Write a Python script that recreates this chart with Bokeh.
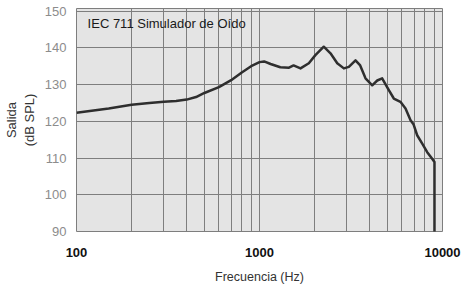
from bokeh.plotting import figure
from bokeh.models import Range1d, FixedTicker, BasicTickFormatter, Label
from bokeh.embed import file_html
from bokeh.resources import INLINE

# ---- data ----
freq_hz = [100, 150, 200, 250, 300, 350, 400, 450, 500, 600, 700, 800, 900,
           1000, 1060, 1150, 1300, 1450, 1535, 1675, 1860, 2020, 2245, 2443,
           2660, 2890, 3078, 3347, 3550, 3796, 4130, 4400, 4680, 5090, 5420,
           5890, 6280, 6690, 6940, 7270, 7750, 8250, 8780, 9040, 9040]
spl_db = [122.3, 123.5, 124.5, 125.0, 125.3, 125.5, 125.9, 126.6, 127.7, 129.3,
          131.2, 133.3, 135.0, 136.1, 136.3, 135.6, 134.7, 134.6, 135.2, 134.4,
          135.8, 138.0, 140.3, 138.5, 135.8, 134.4, 134.8, 136.6, 135.2, 131.7,
          129.8, 131.1, 131.7, 128.5, 126.2, 125.3, 123.5, 120.3, 119.2, 116.2,
          113.9, 111.6, 109.8, 108.9, 89.8]

x_ticks = [100, 1000, 10000]
x_minor = [200, 300, 400, 500, 600, 700, 800, 900,
           2000, 3000, 4000, 5000, 6000, 7000, 8000, 9000]
y_ticks = [90, 100, 110, 120, 130, 140, 150]

chart_note = "IEC 711 Simulador de Oído"
x_title = "Frecuencia (Hz)"
y_title = "Salida\n(dB SPL)"

FONT = "Liberation Sans"
GRID = "#7e7e7e"

p = figure(width=463, height=286, x_axis_type="log",
           x_range=Range1d(100, 10000), y_range=Range1d(90, 150.7),
           output_backend="svg", toolbar_location=None,
           min_border_left=76, min_border_right=21,
           min_border_top=8, min_border_bottom=55)

p.background_fill_color = "#e4e4e4"
p.border_fill_color = "white"
p.outline_line_color = GRID
p.outline_line_width = 1

# x axis
p.xaxis.ticker = FixedTicker(ticks=x_ticks, minor_ticks=x_minor)
p.xaxis.formatter = BasicTickFormatter(use_scientific=False)
p.xaxis.axis_line_color = None
p.xaxis.major_tick_line_color = None
p.xaxis.minor_tick_line_color = None
p.xaxis.major_tick_out = 0
p.xaxis.major_tick_in = 0
p.xaxis.major_label_standoff = 12
p.xaxis.major_label_text_font = FONT
p.xaxis.major_label_text_font_size = "13px"
p.xaxis.major_label_text_font_style = "bold"
p.xaxis.major_label_text_color = "#111111"
p.xaxis.axis_label = x_title
p.xaxis.axis_label_standoff = 10
p.xaxis.axis_label_text_font = FONT
p.xaxis.axis_label_text_font_size = "12.5px"
p.xaxis.axis_label_text_font_style = "normal"
p.xaxis.axis_label_text_color = "#333333"

# y axis
p.yaxis.ticker = FixedTicker(ticks=y_ticks)
p.yaxis.axis_line_color = None
p.yaxis.major_tick_line_color = None
p.yaxis.minor_tick_line_color = None
p.yaxis.major_tick_out = 0
p.yaxis.major_tick_in = 0
p.yaxis.major_label_standoff = 10
p.yaxis.major_label_text_font = FONT
p.yaxis.major_label_text_font_size = "13px"
p.yaxis.major_label_text_color = "#8c8c8c"
p.yaxis.axis_label = y_title
p.yaxis.axis_label_standoff = 5
p.yaxis.axis_label_text_font = FONT
p.yaxis.axis_label_text_font_size = "13px"
p.yaxis.axis_label_text_font_style = "normal"
p.yaxis.axis_label_text_color = "#333333"

# grids
p.xgrid.grid_line_color = GRID
p.xgrid.minor_grid_line_color = GRID
p.xgrid.grid_line_width = 1
p.xgrid.minor_grid_line_width = 1
p.ygrid.grid_line_color = GRID
p.ygrid.grid_line_width = 1

# curve
p.line(freq_hz, spl_db, line_color="#2e2e2e", line_width=2.5, line_join="round")

# note inside the plot
p.add_layout(Label(x=115, y=146.6, text=chart_note, text_font=FONT,
                   text_font_size="13px", text_color="#1a1a1a",
                   text_baseline="middle", text_align="left"))

open("out.html", "w").write(file_html(p, INLINE))
